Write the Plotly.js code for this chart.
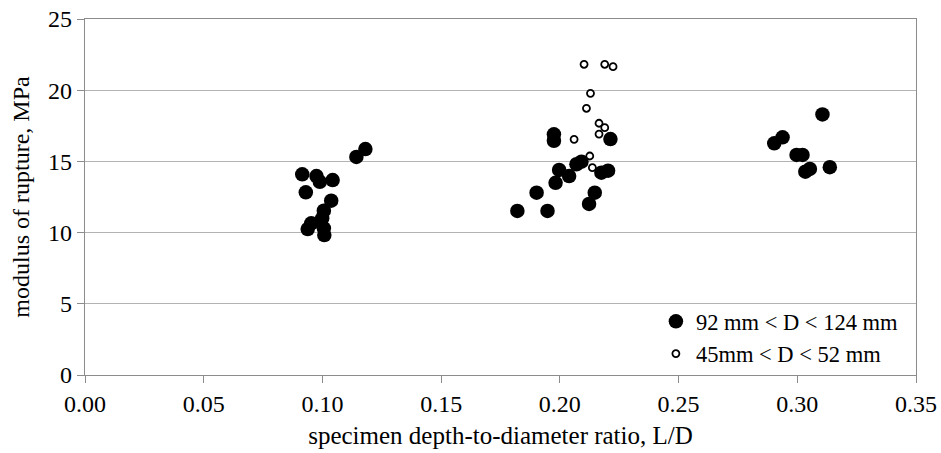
<!DOCTYPE html>
<html>
<head>
<meta charset="utf-8">
<script src="https://cdn.plot.ly/plotly-3.0.1.min.js"></script>
<style>html,body{margin:0;padding:0;background:#fff;}#chart{width:941px;height:453px;}</style>
</head>
<body>
<div id="chart"></div>
<script>
// Series 1: 92 mm < D < 124 mm (filled)
const largeLD = [0.1181,0.1143,0.0915,0.0975,0.0989,0.1043,0.0930,0.1037,0.1006,0.0999,0.0953,0.0938,0.1006,0.1008,
  0.1975,0.1975,0.2213,0.1997,0.2039,0.1982,0.2070,0.2091,0.2175,0.2203,0.1902,0.2147,0.2123,0.1821,0.1948,
  0.3106,0.2903,0.2938,0.2997,0.3022,0.3034,0.3053,0.3137];
const largeMOR = [15.87,15.31,14.09,13.97,13.57,13.69,12.83,12.24,11.54,11.00,10.65,10.25,10.30,9.83,
  16.90,16.45,16.57,14.40,13.97,13.50,14.80,14.98,14.21,14.35,12.80,12.80,12.01,11.52,11.52,
  18.30,16.27,16.69,15.45,15.45,14.28,14.47,14.59];
// Series 2: 45mm < D < 52 mm (open)
const smallLD = [0.2102,0.2189,0.2224,0.2129,0.2112,0.2165,0.2189,0.2165,0.2060,0.2126,0.2137];
const smallMOR = [21.82,21.82,21.65,19.78,18.73,17.68,17.37,16.92,16.55,15.38,14.56];
const seriesNames = ["92 mm < D < 124 mm", "45mm < D < 52 mm"];
const xTicks = [0,0.05,0.10,0.15,0.20,0.25,0.30,0.35];
const yTicks = [0,5,10,15,20,25];

const font = "Liberation Serif";
const traces = [
  {x: largeLD, y: largeMOR, name: seriesNames[0], type: 'scatter', mode: 'markers',
   marker: {symbol: 'circle', size: 14.5, color: '#000000', line: {width: 0}}},
  {x: smallLD, y: smallMOR, name: seriesNames[1], type: 'scatter', mode: 'markers',
   marker: {symbol: 'circle', size: 7, color: '#ffffff', line: {width: 1.8, color: '#000000'}}}
];
const layout = {
  width: 941, height: 453,
  margin: {l: 85, r: 25, t: 19, b: 78},
  paper_bgcolor: '#ffffff', plot_bgcolor: '#ffffff',
  font: {family: font, size: 24, color: '#000000'},
  showlegend: true,
  legend: {x: 0.687, y: 0.21, xanchor: 'left', yanchor: 'top', bgcolor: 'rgba(0,0,0,0)',
           font: {family: font, size: 22.5, color: '#000'}, itemsizing: 'trace'},
  xaxis: {range: [0, 0.35], tickvals: xTicks, tickformat: '.2f', showgrid: false, zeroline: false,
          showline: true, linecolor: '#8c8c8c', linewidth: 1.3, mirror: true,
          ticks: 'outside', ticklen: 7, tickcolor: '#8c8c8c', tickfont: {family: font, size: 24},
          title: {text: 'specimen depth-to-diameter ratio, L/D', font: {family: font, size: 25}, standoff: 10}},
  yaxis: {range: [0, 25], tickvals: yTicks, showgrid: true, gridcolor: '#b3b3b3', gridwidth: 1.3, zeroline: false,
          showline: true, linecolor: '#8c8c8c', linewidth: 1.3, mirror: true,
          ticks: 'outside', ticklen: 7, tickcolor: '#8c8c8c', tickfont: {family: font, size: 24},
          ticksuffix: '\u00a0\u2006',
          title: {text: 'modulus of rupture, MPa', font: {family: font, size: 24}, standoff: 11}}
};
Plotly.newPlot('chart', traces, layout, {displayModeBar: false, staticPlot: true});
</script>
</body>
</html>
